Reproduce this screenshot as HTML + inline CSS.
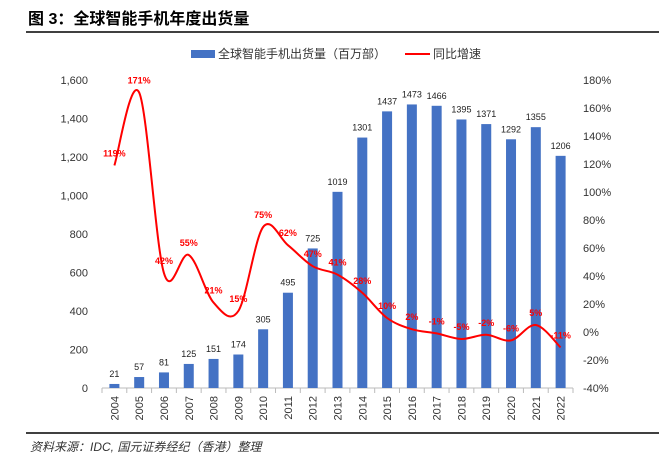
<!DOCTYPE html>
<html><head><meta charset="utf-8"><style>
body{margin:0;background:#fff;width:659px;height:471px;overflow:hidden;font-family:"Liberation Sans","Noto Sans CJK SC",sans-serif}
svg text{font-family:"Liberation Sans","Noto Sans CJK SC",sans-serif}
</style></head><body>
<svg id="c" width="659" height="471">
<text x="28" y="24" font-size="16" font-weight="bold" font-family="'Noto Serif CJK SC',serif">图 3：全球智能手机年度出货量</text>
<line x1="26" y1="32" x2="659" y2="32" stroke="#000" stroke-width="1.5"/>
<g>
<rect x="191" y="50" width="24" height="8" fill="#4472C4"/>
<text x="218" y="58" font-size="12" fill="#333">全球智能手机出货量（百万部）</text>
<line x1="405" y1="54" x2="430" y2="54" stroke="#f00" stroke-width="2"/>
<text x="433" y="58" font-size="12" fill="#333">同比增速</text>
</g>
<g id="g"></g>
<line x1="26" y1="433" x2="659" y2="433" stroke="#000" stroke-width="1.5"/>
<text x="30" y="451" font-size="12" font-style="italic" fill="#333">资料来源：IDC, 国元证券经纪（香港）整理</text>
</svg>
<script>
const years=["2004","2005","2006","2007","2008","2009","2010","2011","2012","2013","2014","2015","2016","2017","2018","2019","2020","2021","2022"];
const shipments=[21,57,81,125,151,174,305,495,725,1019,1301,1437,1473,1466,1395,1371,1292,1355,1206];
const growth=[119,171,42,55,21,15,75,62,47,41,28,10,2,-1,-5,-2,-6,5,-11];
const leftTicks=[0,200,400,600,800,1000,1200,1400,1600];
const rightTicks=[-40,-20,0,20,40,60,80,100,120,140,160,180];
const NS="http://www.w3.org/2000/svg",g=document.getElementById('g');
const x0=102,x1=573,yb=388,yt=80,step=(x1-x0)/years.length;
const yL=v=>yb-(v/1600)*(yb-yt), yR=v=>yb-((v+40)/220)*(yb-yt), xc=i=>x0+step*(i+0.5);
function el(t,a,txt){const e=document.createElementNS(NS,t);for(const k in a)e.setAttribute(k,a[k]);if(txt!==undefined)e.textContent=txt;g.appendChild(e);return e;}
let e=el('line',{x1:x0,y1:yb,x2:x1,y2:yb,stroke:'#bbb'});

leftTicks.forEach(v=>{const t=el('text',{x:x0-14,y:yL(v)+4,'font-size':11,'text-anchor':'end',fill:'#333'},v.toLocaleString('en-US'));
});
rightTicks.forEach(v=>{const t=el('text',{x:x1+10,y:yR(v)+4,'font-size':11,fill:'#333'},v+'%');
});
years.forEach((y,i)=>{
const tk=el('line',{x1:x0+step*i,y1:yb,x2:x0+step*i,y2:yb+5,stroke:'#bbb'});

const b=el('rect',{x:xc(i)-5,y:yL(shipments[i]),width:10,height:yb-yL(shipments[i]),fill:'#4472C4'});

const l=el('text',{x:xc(i),y:yL(shipments[i])-7,'font-size':9,'text-anchor':'middle',fill:'#222'},shipments[i]);

const xl=el('text',{x:0,y:0,'font-size':11,'text-anchor':'end',fill:'#333',transform:`translate(${xc(i)+4},${yb+8}) rotate(-90)`},y);

});
const last=el('line',{x1:x1,y1:yb,x2:x1,y2:yb+5,stroke:'#bbb'});

const pts=growth.map((v,i)=>[xc(i),yR(v)]);
let d='M'+pts[0];
for(let i=0;i<pts.length-1;i++){const p0=pts[i-1]||pts[i],p1=pts[i],p2=pts[i+1],p3=pts[i+2]||p2;
d+=` C${p1[0]+(p2[0]-p0[0])/6},${p1[1]+(p2[1]-p0[1])/6} ${p2[0]-(p3[0]-p1[0])/6},${p2[1]-(p3[1]-p1[1])/6} ${p2[0]},${p2[1]}`;}
const ln=el('path',{d:d,fill:'none',stroke:'#f00','stroke-width':2});

growth.forEach((v,i)=>{const t=el('text',{x:xc(i),y:yR(v)-9,'font-size':9,'font-weight':'bold','text-anchor':'middle',fill:'#f00'},v+'%');
});
</script>
</body></html>
